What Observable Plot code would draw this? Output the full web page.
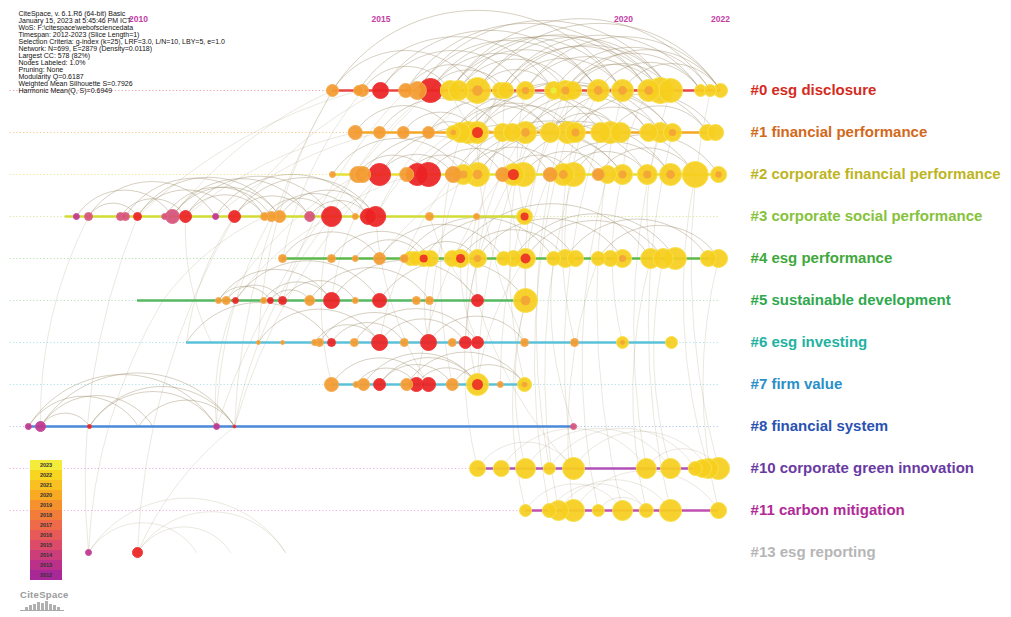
<!DOCTYPE html>
<html><head><meta charset="utf-8">
<script src="https://cdn.jsdelivr.net/npm/d3@7"></script>
<script src="https://cdn.jsdelivr.net/npm/@observablehq/plot@0.6"></script>
<style>
body{margin:0;background:#fff;font-family:"Liberation Sans",Arial,sans-serif;}
#wrap{position:relative;width:1011px;height:617px;overflow:hidden;}
#legend{position:absolute;left:30px;top:460px;width:32px;}
#legend div{height:10px;font-size:5.5px;font-weight:bold;color:#333;text-align:center;line-height:10px;}
#logo{position:absolute;left:20px;top:589px;width:44px;text-align:center;color:#9a9a9a;font-weight:bold;font-size:9.5px;letter-spacing:0.3px;}
#bars{display:flex;align-items:flex-end;justify-content:center;gap:1px;height:9px;margin-top:1px;border-bottom:1px solid #aaa;}
#bars span{display:block;width:3px;background:#b0b0b0;}
</style></head><body><div id="wrap"></div><script>
// ---------- data ----------
const clusterIds = [0, 1, 2, 3, 4, 5, 6, 7, 8, 10, 11, 13];
const clusterNames = ["esg disclosure", "financial performance", "corporate financial performance",
  "corporate social performance", "esg performance", "sustainable development", "esg investing",
  "firm value", "financial system", "corporate green innovation", "carbon mitigation", "esg reporting"];
const timelineStart = [2014.00, 2014.47, 2014.00, 2008.49, 2012.97, 2009.98, 2010.99, 2013.98, 2007.73, 2016.99, 2017.98, null];
const timelineEnd   = [2022.00, 2021.90, 2021.96, 2017.96, 2021.96, 2017.98, 2020.99, 2017.96, 2018.97, 2021.96, 2021.96, null];
const dottedFrom = 2007.35, dottedTo = 2022.0, labelYear = 2022.62;
const axisYears = [2010, 2015, 2020, 2022];
const legendYears = [2023, 2022, 2021, 2020, 2019, 2018, 2017, 2016, 2015, 2014, 2013, 2012];
const infoLines = [
  "CiteSpace, v. 6.1.R6 (64-bit) Basic",
  "January 15, 2023 at 5:45:46 PM ICT",
  "WoS: F:\\citespace\\webofsciencedata",
  "Timespan: 2012-2023 (Slice Length=1)",
  "Selection Criteria: g-index (k=25), LRF=3.0, L/N=10, LBY=5, e=1.0",
  "Network: N=699, E=2879 (Density=0.0118)",
  "Largest CC: 578 (82%)",
  "Nodes Labeled: 1.0%",
  "Pruning: None",
  "Modularity Q=0.6187",
  "Weighted Mean Silhouette S=0.7926",
  "Harmonic Mean(Q, S)=0.6949"];

// nodes: [year, citations, class, core]
const nodesC0 = [[2014.00,36,"o",""],[2014.54,25,"o",""],[2014.62,36,"o",""],[2014.99,64,"r",""],[2015.51,49,"o",""],
  [2015.75,81,"o","o"],[2016.02,144,"r",""],[2016.43,100,"y",""],[2016.60,100,"y",""],[2016.99,169,"y","o"],
  [2017.46,64,"y",""],[2017.57,64,"y",""],[2017.98,81,"y","o"],[2018.56,81,"y","l"],[2018.80,100,"y","o"],
  [2018.95,81,"y",""],[2019.48,121,"y","o"],[2019.98,121,"y","o"],[2020.52,121,"y","o"],[2020.76,169,"y",""],
  [2020.97,144,"y",""],[2021.59,36,"y",""],[2021.79,36,"y",""],[2022.00,49,"y",""]];
const nodesC1 = [[2014.47,49,"o",""],[2014.97,36,"o",""],[2015.46,36,"o",""],[2015.98,36,"o",""],[2016.49,49,"y","o"],
  [2016.64,100,"y",""],[2016.80,121,"y",""],[2016.99,121,"y","r"],[2017.51,81,"y",""],[2017.71,81,"y",""],
  [2017.98,121,"y","o"],[2018.49,100,"y",""],[2018.85,121,"y",""],[2019.01,100,"y","o"],[2019.53,100,"y",""],
  [2019.73,121,"y",""],[2019.94,100,"y",""],[2020.52,81,"y",""],[2020.76,100,"y",""],[2021.01,81,"y","o"],
  [2021.73,64,"y",""],[2021.90,64,"y",""]];
const nodesC2 = [[2014.00,9,"o",""],[2014.52,64,"o",""],[2014.62,64,"o","o"],[2014.97,121,"r",""],[2015.53,49,"o",""],
  [2015.75,121,"r",""],[2015.98,144,"r",""],[2016.49,64,"o",""],[2016.70,100,"y","o"],[2016.99,144,"y","o"],
  [2017.51,49,"o",""],[2017.73,121,"y","r"],[2017.94,144,"y",""],[2018.49,49,"o",""],[2018.76,121,"y","o"],
  [2018.97,144,"y",""],[2019.48,36,"o",""],[2019.67,81,"y",""],[2019.98,100,"y","o"],[2020.49,100,"y","o"],
  [2020.97,121,"y","o"],[2021.48,169,"y",""],[2021.96,64,"y","o"]];
const nodesC3 = [[2008.72,9,"m",""],[2008.97,16,"p",""],[2009.63,16,"p",""],[2009.73,16,"p",""],[2009.98,16,"r",""],
  [2010.54,9,"p",""],[2010.70,49,"p",""],[2010.97,36,"r",""],[2011.59,9,"m",""],[2011.98,36,"r",""],
  [2012.60,16,"o",""],[2012.74,25,"o",""],[2012.91,36,"o",""],[2013.53,25,"p",""],[2013.98,100,"r",""],
  [2014.47,9,"o",""],[2014.74,64,"r",""],[2014.89,100,"r",""],[2016.00,16,"o",""],[2016.97,9,"o",""],
  [2017.96,64,"y","r"]];
const nodesC4 = [[2012.97,16,"o",""],[2013.98,16,"o",""],[2014.47,9,"o",""],[2014.97,36,"o",""],[2015.48,16,"o",""],
  [2015.61,49,"y",""],[2015.71,49,"y",""],[2015.88,64,"y","r"],[2016.02,64,"y",""],[2016.47,64,"y",""],
  [2016.64,81,"y","r"],[2016.99,81,"y","o"],[2017.53,49,"y",""],[2017.73,64,"y",""],[2017.98,100,"y","r"],
  [2018.56,49,"y",""],[2018.80,81,"y",""],[2019.01,64,"y",""],[2019.48,49,"y",""],[2019.73,64,"y",""],
  [2019.98,81,"y","o"],[2020.56,100,"y",""],[2020.82,100,"y",""],[2021.07,121,"y",""],[2021.75,64,"y",""],
  [2021.96,81,"y",""]];
const nodesC5 = [[2011.65,9,"o",""],[2011.81,16,"o",""],[2012.00,9,"r",""],[2012.58,9,"o",""],[2012.72,9,"r",""],
  [2012.97,16,"r",""],[2013.53,25,"o",""],[2013.98,64,"r",""],[2014.47,9,"o",""],[2014.97,49,"r",""],
  [2015.73,16,"o",""],[2016.00,16,"o","o"],[2016.99,36,"r",""],[2017.98,144,"y","o"]];
const nodesC6 = [[2012.47,4,"o",""],[2012.97,4,"o",""],[2013.63,9,"o",""],[2013.73,16,"o",""],[2013.98,16,"r",""],
  [2014.45,16,"o",""],[2014.97,64,"r",""],[2015.48,16,"o",""],[2015.98,64,"r",""],[2016.47,16,"o",""],
  [2016.74,36,"r",""],[2016.99,36,"r",""],[2017.96,16,"o",""],[2018.99,16,"o",""],[2019.98,36,"y","o"],
  [2020.99,36,"y",""]];
const nodesC7 = [[2013.98,49,"o",""],[2014.49,9,"o",""],[2014.64,36,"o",""],[2014.97,36,"r",""],[2015.53,36,"o",""],
  [2015.73,49,"r",""],[2015.98,49,"r",""],[2016.47,36,"o",""],[2016.99,121,"y","r"],[2017.46,9,"o",""],
  [2017.96,49,"y","o"]];
const nodesC8 = [[2007.73,9,"m",""],[2007.98,25,"m",""],[2008.99,4,"r",""],[2011.61,9,"m",""],[2011.98,2,"r",""],
  [2018.97,9,"p",""]];
const nodesC10 = [[2016.99,64,"y",""],[2017.48,64,"y",""],[2017.98,100,"y",""],[2018.47,36,"y",""],[2018.97,121,"y",""],
  [2020.47,100,"y",""],[2020.97,100,"y",""],[2021.48,49,"y",""],[2021.63,81,"y",""],[2021.75,100,"y",""],
  [2021.96,121,"y",""]];
const nodesC11 = [[2017.98,36,"y",""],[2018.47,49,"y",""],[2018.66,100,"y",""],[2018.97,121,"y",""],[2019.48,36,"y",""],
  [2019.98,100,"y",""],[2020.47,49,"y",""],[2020.97,121,"y",""],[2021.96,64,"y",""]];
const nodesC13 = [[2008.97,9,"m",""],[2009.98,25,"r",""]];

// co-citation arcs inside a cluster: [yearA, yearB]
const arcsC0 = [[2014.00,2016.99],[2014.99,2017.98],[2015.75,2019.48],[2016.02,2019.98],[2016.43,2020.52],
  [2016.99,2020.97],[2017.46,2021.59],[2017.98,2022.00],[2018.56,2021.79],[2018.80,2020.76],[2016.60,2018.95],
  [2017.57,2019.98],[2015.51,2017.46],[2016.99,2018.56],[2019.48,2021.59],[2014.62,2016.43],[2018.95,2022.00],
  [2016.43,2021.79],[2015.75,2020.97],[2017.98,2020.52],[2019.98,2022.00],[2014.99,2019.48],[2016.02,2018.80],
  [2016.60,2020.76],[2017.57,2020.97],[2018.80,2021.59],[2014.00,2019.98],[2014.54,2018.56],[2016.99,2022.00],
  [2015.51,2020.52],[2016.43,2019.48],[2017.46,2020.76],[2018.95,2020.97],[2016.02,2017.57]];
const arcsC1 = [[2014.47,2016.49],[2014.97,2017.51],[2015.98,2018.49],[2016.49,2019.53],[2016.80,2020.52],
  [2017.51,2021.01],[2017.98,2019.94],[2018.49,2021.73],[2018.85,2020.76],[2016.64,2018.85],[2017.71,2020.52],
  [2019.01,2021.90],[2019.73,2021.73],[2016.99,2019.01],[2015.46,2016.99],[2016.80,2019.73],[2017.98,2021.01],
  [2016.49,2018.49],[2016.99,2020.76],[2018.49,2019.94],[2015.98,2016.80]];
const arcsC2 = [[2014.00,2016.70],[2014.62,2017.51],[2014.97,2018.49],[2015.75,2019.48],[2015.98,2017.94],
  [2016.49,2020.49],[2016.99,2019.98],[2017.73,2021.48],[2018.49,2020.97],[2018.97,2021.96],[2016.70,2018.76],
  [2017.94,2019.67],[2019.48,2021.48],[2015.53,2016.99],[2014.52,2015.98],[2016.99,2020.97],[2014.97,2016.49],
  [2016.70,2019.98],[2017.51,2018.97],[2018.76,2020.49]];
const arcsC3 = [[2008.72,2010.70],[2008.97,2011.59],[2009.63,2010.97],[2009.98,2011.98],[2010.54,2012.74],
  [2010.70,2013.53],[2010.97,2013.98],[2011.59,2014.74],[2011.98,2014.89],[2012.91,2014.89],[2012.60,2013.98],
  [2013.53,2014.74],[2009.73,2012.60],[2008.97,2009.98],[2010.70,2012.91],[2011.98,2013.53],[2010.97,2012.60],
  [2012.74,2014.47],[2009.98,2012.91]];
const arcsC4 = [[2012.97,2014.97],[2013.98,2016.02],[2014.97,2017.53],[2015.48,2018.56],[2015.88,2019.01],
  [2016.47,2020.56],[2016.99,2019.98],[2017.73,2021.07],[2018.80,2021.75],[2019.48,2021.96],[2016.64,2018.80],
  [2014.47,2015.88],[2015.71,2016.99],[2017.98,2020.82]];
const arcsC5 = [[2011.65,2013.98],[2011.81,2012.97],[2012.00,2014.97],[2012.72,2013.53],[2012.97,2014.47],
  [2013.53,2016.00],[2013.98,2016.99],[2014.97,2017.98],[2012.58,2013.98],[2011.65,2012.72]];
const arcsC6 = [[2010.99,2013.98],[2012.47,2014.97],[2013.73,2015.98],[2014.45,2016.99],[2014.97,2016.74],
  [2013.98,2015.48],[2015.98,2017.96],[2013.63,2014.97]];
const arcsC7 = [[2013.98,2015.98],[2014.64,2016.99],[2014.97,2016.47],[2015.53,2017.96],[2015.73,2016.99],
  [2014.49,2015.73],[2016.47,2017.96],[2014.97,2016.99]];
const arcsC8 = [[2007.73,2011.61],[2007.98,2011.98],[2007.98,2008.99],[2008.99,2011.61],[2007.73,2010.00],
  [2008.99,2011.98],[2010.00,2011.98],[2007.98,2010.30]];
const arcsC10 = [[2016.99,2018.97],[2017.48,2020.47],[2017.98,2020.97],[2018.97,2021.75],[2020.47,2021.96],
  [2018.47,2021.48]];
const arcsC11 = [[2017.98,2019.98],[2018.66,2020.97],[2018.97,2021.96],[2019.48,2020.47],[2018.47,2020.47]];
const arcsC13 = [[2008.97,2013.03],[2008.97,2011.20],[2009.98,2013.03],[2009.98,2011.90]];

// links between clusters: [clusterA, yearA, clusterB, yearB]
const crossLinks = [[3,2010.70,0,2014.00],[3,2010.97,1,2014.47],[3,2011.98,0,2014.99],[3,2013.98,0,2016.02],
  [3,2014.89,1,2016.49],[3,2014.89,0,2016.99],[3,2013.98,2,2015.75],[5,2012.00,3,2013.98],[5,2013.98,2,2014.97],
  [5,2012.97,0,2015.51],[6,2010.99,3,2011.98],[6,2014.97,2,2016.49],[6,2015.98,0,2017.46],[7,2016.99,0,2018.56],
  [7,2015.73,2,2017.51],[7,2016.99,4,2017.98],[8,2011.98,3,2013.98],[8,2011.61,5,2012.00],[8,2007.98,3,2008.97],
  [8,2011.98,0,2014.00],[10,2016.99,4,2016.99],[10,2018.97,1,2019.53],[10,2020.47,0,2020.97],[10,2021.75,2,2021.48],
  [11,2018.97,4,2019.48],[11,2020.97,1,2021.01],[11,2019.98,0,2019.98],[10,2017.98,5,2017.98],[11,2017.98,5,2017.98],
  [13,2009.98,8,2011.98],[13,2008.97,5,2010.50],[4,2012.97,0,2014.62],[4,2014.97,2,2016.99],[4,2016.99,1,2017.98],
  [4,2018.80,0,2019.48],[7,2013.98,3,2013.98],[6,2016.99,4,2016.64],[5,2017.98,2,2018.49],[5,2016.99,1,2017.51],
  [3,2017.96,0,2017.98],[2,2016.99,0,2017.46],[2,2019.98,0,2020.52],[1,2016.99,0,2016.43],[1,2018.85,0,2019.48],
  [3,2009.98,0,2014.54],[3,2011.59,1,2014.97],[5,2010.50,3,2012.60],[6,2012.47,0,2014.00],[8,2011.61,3,2012.74],
  [11,2018.66,2,2018.97],[10,2021.96,0,2021.79],[11,2021.96,4,2021.96],[7,2016.47,1,2016.64],[6,2019.98,2,2019.98],
  [8,2011.61,0,2016.02],[8,2011.98,2,2014.97],[13,2009.98,3,2011.98],[13,2008.97,3,2009.98],[6,2011.50,3,2010.97],
  [5,2011.81,2,2014.52],[10,2018.47,0,2018.95],[11,2019.48,2,2019.67],[10,2020.97,4,2020.82],[11,2018.47,1,2018.85],
  [7,2017.96,1,2017.98],[5,2017.98,0,2018.80],[4,2017.98,0,2017.57],[6,2017.96,0,2016.99],[4,2020.56,1,2020.76],
  [7,2015.98,3,2014.89],[6,2015.98,4,2016.02],[5,2016.99,3,2016.00],[7,2016.99,3,2016.97],[6,2016.74,2,2017.73],
  [10,2018.97,5,2016.99],[8,2018.97,4,2018.56],[11,2020.47,4,2020.56],[7,2017.46,0,2018.95],[6,2018.99,1,2019.01]];

// ---------- styles ----------
const labelColors = ["#d42b1e","#d2691a","#bdb51f","#86c23c","#3fa83c","#2fa84e","#22b2a2","#2a90c8","#2a52b2","#6a3aa2","#b02a98","#b6b6b6"];
const lineColors = ["#e84444","#f5a623","#e6e034","#d2dc34","#5cb84a","#56b862","#5ac2d8","#5ac2d8","#4a88d8","#b050b8","#c050b0",null];
const dotColors  = ["#f2a0a0","#f6c890","#e8e890","#d8e8a0","#b8e0b0","#b8e0c0","#b0e0ec","#b0e0ec","#b0c8ec","#e8b0e0","#f0b0e0",null];
const nodeFill = {y:"#f6cf1e", o:"#f39b30", r:"#ec2224", p:"#d6527a", m:"#c0368f"};
const nodeStroke = {y:"#f7e04a", o:"#f5ad50", r:"#ee3a3a", p:"#dc6a8a", m:"#c84c9c"};
const coreFill = {o:"#f3a03a", r:"#ec2224", l:"#e6f23e"};
const coreScale = {o:0.16, r:0.25, l:0.12};
const legendColors = ["#f4ec3a","#f7d520","#f8c020","#f8aa22","#f5922e","#f27c3a","#ee6a48","#e85a58","#dc4c68","#cc3e7a","#bb3088","#a82898"];

// ---------- build ----------
const nodeSets = [nodesC0,nodesC1,nodesC2,nodesC3,nodesC4,nodesC5,nodesC6,nodesC7,nodesC8,nodesC10,nodesC11,nodesC13];
const arcSets = [arcsC0,arcsC1,arcsC2,arcsC3,arcsC4,arcsC5,arcsC6,arcsC7,arcsC8,arcsC10,arcsC11,arcsC13];
const rowOf = id => clusterIds.indexOf(id);
const clusters = clusterIds.map((id, i) => ({id, row: i, name: clusterNames[i], lc: lineColors[i], dc: dotColors[i], tc: labelColors[i], x1: timelineStart[i], x2: timelineEnd[i]}));
const nodes = nodeSets.flatMap((s, i) => s.map(([year, c, k, core]) => ({row: i, year, c, k, core})));
const arcs = arcSets.flatMap((s, i) => s.map(([a, b]) => ({row: i, a: Math.min(a, b), b: Math.max(a, b)})));
const cross = crossLinks.map(([ca, ya, cb, yb]) => ({r1: rowOf(ca), y1: ya, r2: rowOf(cb), y2: yb}));

const font = "Liberation Sans, Arial, sans-serif";
const chart = Plot.plot({
  width: 1011, height: 617, margin: 0,
  x: {domain: [2007.155, 2028.0], axis: null},
  y: {domain: [-2.142857, 12.547619], range: [0, 617], axis: null},
  r: {type: "sqrt", domain: [0, 169], range: [0, 13]},
  color: {type: "identity"},
  style: {fontFamily: font, background: "transparent"},
  marks: [
    Plot.ruleY(clusters.filter(d => d.dc), {y: "row", x1: dottedFrom, x2: dottedTo, stroke: "dc", strokeWidth: 1, strokeDasharray: "1.2,2.2"}),
    Plot.arrow(arcs, {x1: "a", y1: "row", x2: "b", y2: "row", bend: 58, headLength: 0, stroke: "#9c8a66", strokeOpacity: d => d.row >= 9 ? 0.2 : 0.4, strokeWidth: 1}),
    Plot.arrow(cross, {x1: "y1", y1: "r1", x2: "y2", y2: "r2", bend: 14, headLength: 0, stroke: "#9c8a66", strokeOpacity: 0.2, strokeWidth: 1}),
    Plot.ruleY(clusters.filter(d => d.lc), {y: "row", x1: "x1", x2: "x2", stroke: "lc", strokeWidth: 2.6}),
    Plot.dot(nodes, {x: "year", y: "row", r: "c", fill: d => nodeFill[d.k], stroke: d => nodeStroke[d.k], strokeWidth: 1, fillOpacity: 0.93}),
    Plot.dot(nodes.filter(d => d.core), {x: "year", y: "row", r: d => d.c * coreScale[d.core], fill: d => coreFill[d.core], fillOpacity: 0.85}),
    Plot.text(clusters, {x: labelYear, y: "row", text: d => `#${d.id} ${d.name}`, fill: "tc", textAnchor: "start", fontWeight: "bold", fontSize: 15, fontFamily: font}),
    Plot.text(axisYears, {x: d => d, y: -1.69, text: d => String(d), fill: "#c43ea6", fontWeight: "bold", fontSize: 8.5}),
    Plot.text([infoLines.join("\n")], {frameAnchor: "top-left", dx: 18, dy: 11, text: d => d, lineAnchor: "top", lineHeight: 1.0, fontSize: 7, fill: "#111", textAnchor: "start"})
  ]
});
const wrap = document.getElementById("wrap");
wrap.appendChild(chart);

// color legend (node year rings)
const leg = document.createElement("div");
leg.id = "legend";
legendYears.forEach((y, i) => {
  const c = document.createElement("div");
  c.style.background = legendColors[i];
  c.textContent = y;
  leg.appendChild(c);
});
wrap.appendChild(leg);

// CiteSpace logo
const logo = document.createElement("div");
logo.id = "logo";
logo.innerHTML = 'CiteSpace<div id="bars">' + [3,5,6,8,7,9,6,5,3].map(h => `<span style="height:${h}px"></span>`).join("") + '</div>';
wrap.appendChild(logo);
</script></body></html>
